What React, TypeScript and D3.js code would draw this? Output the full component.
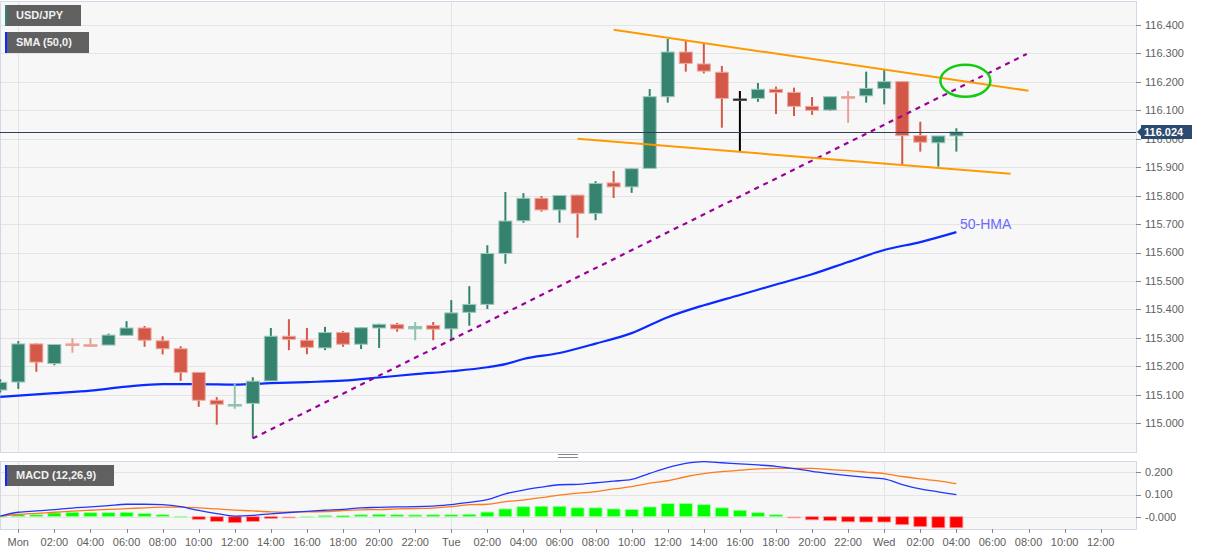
import React from 'react';
import * as d3 from 'd3';

const WIDTH = 1207;
const HEIGHT = 555;

// hourly USD/JPY candles, the first one is Sun 23:00 (GMT)
const firstCandle = Date.UTC(2022, 0, 2, 23);
const monday = Date.UTC(2022, 0, 3, 0);

const opens = [115.117, 115.145, 115.279, 115.210, 115.279, 115.276, 115.275, 115.309, 115.335, 115.290,
  115.262, 115.179, 115.081, 115.063, 115.070, 115.149, 115.306, 115.292, 115.265, 115.319,
  115.278, 115.335, 115.347, 115.332, 115.344, 115.332, 115.390, 115.418, 115.597, 115.712,
  115.791, 115.750, 115.802, 115.738, 115.845, 115.831, 115.896, 116.148, 116.305, 116.263,
  116.234, 116.140, 116.142, 116.174, 116.163, 116.114, 116.101, 116.148, 116.151, 116.177,
  116.201, 116.011, 115.986, 116.010];
const highs = [115.155, 115.289, 115.281, 115.279, 115.299, 115.299, 115.315, 115.359, 115.342, 115.306,
  115.271, 115.180, 115.092, 115.141, 115.162, 115.335, 115.366, 115.335, 115.339, 115.324,
  115.337, 115.350, 115.353, 115.356, 115.356, 115.433, 115.482, 115.626, 115.813, 115.809,
  115.799, 115.801, 115.803, 115.851, 115.887, 115.895, 116.175, 116.351, 116.344, 116.336,
  116.256, 116.168, 116.196, 116.183, 116.180, 116.147, 116.148, 116.168, 116.236, 116.242,
  116.203, 116.060, 116.010, 116.037];
const lows = [115.108, 115.121, 115.181, 115.204, 115.248, 115.272, 115.275, 115.309, 115.269, 115.242,
  115.149, 115.058, 114.995, 115.051, 114.947, 115.149, 115.257, 115.243, 115.257, 115.269,
  115.261, 115.265, 115.322, 115.292, 115.292, 115.295, 115.343, 115.402, 115.561, 115.705,
  115.744, 115.705, 115.652, 115.714, 115.792, 115.810, 115.896, 116.127, 116.236, 116.230,
  116.039, 115.957, 116.130, 116.087, 116.080, 116.084, 116.098, 116.056, 116.127, 116.121,
  115.910, 115.955, 115.902, 115.955];
const closes = [115.144, 115.279, 115.215, 115.277, 115.276, 115.273, 115.310, 115.335, 115.292, 115.262,
  115.179, 115.081, 115.067, 115.066, 115.148, 115.306, 115.295, 115.267, 115.319, 115.278,
  115.336, 115.348, 115.332, 115.340, 115.331, 115.388, 115.418, 115.597, 115.711, 115.791,
  115.750, 115.801, 115.738, 115.843, 115.831, 115.895, 116.148, 116.305, 116.265, 116.238,
  116.142, 116.140, 116.174, 116.163, 116.114, 116.100, 116.148, 116.143, 116.177, 116.201,
  116.011, 115.988, 116.010, 116.024];
const lastPrice = 116.024;

// 50-hour moving average (hours from Mon 00:00)
const smaHours = [-1, 0, 2, 4, 6, 8, 10, 12, 14, 16, 18, 20, 22, 24, 26, 27, 28, 30, 32, 34, 36, 38, 40, 42, 44, 46, 48, 50, 52];
const smaValues = [115.093, 115.097, 115.106, 115.115, 115.129, 115.138, 115.138, 115.136, 115.141, 115.145,
  115.150, 115.161, 115.173, 115.183, 115.197, 115.208, 115.226, 115.247, 115.280, 115.317,
  115.373, 115.415, 115.451, 115.488, 115.524, 115.567, 115.609, 115.637, 115.672];

// MACD (12,26,9), one value per candle
const macdLine = [0.003, 0.020, 0.026, 0.032, 0.039, 0.044, 0.050, 0.056, 0.056, 0.054,
  0.045, 0.028, 0.014, 0.003, 0.006, 0.013, 0.019, 0.024, 0.029, 0.033,
  0.040, 0.042, 0.044, 0.045, 0.048, 0.054, 0.065, 0.077, 0.103, 0.120,
  0.133, 0.144, 0.146, 0.153, 0.160, 0.168, 0.195, 0.221, 0.240, 0.248,
  0.243, 0.238, 0.233, 0.227, 0.217, 0.204, 0.194, 0.185, 0.177, 0.170,
  0.145, 0.125, 0.112, 0.099];
const signalLine = [0.003, 0.010, 0.015, 0.020, 0.025, 0.029, 0.033, 0.036, 0.040, 0.043,
  0.043, 0.040, 0.035, 0.030, 0.026, 0.022, 0.021, 0.022, 0.023, 0.028,
  0.031, 0.032, 0.035, 0.037, 0.039, 0.045, 0.054, 0.056, 0.068, 0.075,
  0.086, 0.097, 0.106, 0.113, 0.125, 0.135, 0.151, 0.162, 0.180, 0.194,
  0.203, 0.2095, 0.215, 0.218, 0.218, 0.2175, 0.212, 0.2075, 0.201, 0.194,
  0.181, 0.170, 0.1615, 0.1485];
const histogram = [0.002, 0.009, 0.009, 0.017, 0.020, 0.018, 0.018, 0.020, 0.015, 0.009,
  0.003, -0.012, -0.021, -0.027, -0.021, -0.008, -0.001, 0.002, 0.006, 0.005,
  0.009, 0.011, 0.009, 0.008, 0.009, 0.009, 0.011, 0.021, 0.035, 0.045,
  0.047, 0.047, 0.040, 0.040, 0.035, 0.033, 0.044, 0.059, 0.060, 0.054,
  0.040, 0.029, 0.018, 0.009, -0.001, -0.014, -0.018, -0.023, -0.024, -0.024,
  -0.036, -0.045, -0.050, -0.050];
const macdTicks = [0, 0.1, 0.2];
const macdTickLabels = ['-0.000', '0.100', '0.200'];

// drawn lines: [hour from Mon 00:00, price]
const supportLine = [[13, 114.947], [55.9, 116.298]];
const channelTop = [[33, 116.383], [56, 116.169]];
const channelBottom = [[31, 116.0], [55, 115.877]];
const circleAt = [52.5, 116.204];
const hmaLabelAt = [52.2, 115.683];

const FONT = 'Liberation Sans, Arial, sans-serif';
const PLOT_RIGHT = 1136;
const MAIN_TOP = 1;
const MAIN_BOTTOM = 452;
const MACD_TOP = 461;
const MACD_BOTTOM = 529;

const UP = '#35836f';
const DOWN = '#d45848';

export default function App() {
  const x = d3.scaleUtc()
    .domain([new Date(monday), new Date(Date.UTC(2022, 0, 5, 12))])
    .range([18.3, 1100.7]);
  const y = d3.scaleLinear().domain([115.0, 116.4]).range([423.3, 25]);
  const ym = d3.scaleLinear().domain([0, 0.2]).range([516.7, 472.3]);

  const hourX = (h: number) => x(new Date(monday + h * 3600e3));
  const candleX = (i: number) => x(new Date(firstCandle + i * 3600e3));

  const priceTicks = y.ticks(14);
  const timeTicks = x.ticks(d3.utcHour.every(2)!);
  const fmtTime = (d: Date) => d.getUTCHours() === 0 ? d3.utcFormat('%a')(d) : d3.utcFormat('%H:%M')(d);

  const smaPath = d3.line<number>()
    .x((_, i) => hourX(smaHours[i]))
    .y(d => y(d))
    .curve(d3.curveMonotoneX)(smaValues);

  const macdPath = d3.line<number>().x((_, i) => candleX(i)).y(d => ym(d)).curve(d3.curveMonotoneX);

  const seg = (pts: number[][]) => ({
    x1: hourX(pts[0][0]), y1: y(pts[0][1]), x2: hourX(pts[1][0]), y2: y(pts[1][1]),
  });

  const bw = 13;

  return (
    <svg width={WIDTH} height={HEIGHT} style={{ position: 'absolute', left: 0, top: 0, background: '#fff' }}>
      <defs>
        <clipPath id="mainClip">
          <rect x={0} y={MAIN_TOP} width={PLOT_RIGHT} height={MAIN_BOTTOM - MAIN_TOP} />
        </clipPath>
        <clipPath id="macdClip">
          <rect x={0} y={MACD_TOP} width={PLOT_RIGHT} height={MACD_BOTTOM - MACD_TOP} />
        </clipPath>
      </defs>

      {/* main panel */}
      <rect x={0.5} y={MAIN_TOP + 0.5} width={PLOT_RIGHT} height={MAIN_BOTTOM - MAIN_TOP} fill="#f7f7f7" stroke="#d3d8e8" />
      {priceTicks.map(t => (
        <g key={t}>
          <line x1={1} x2={PLOT_RIGHT} y1={Math.round(y(t)) + 0.5} y2={Math.round(y(t)) + 0.5} stroke="#e4e4e4" />
          <line x1={PLOT_RIGHT} x2={PLOT_RIGHT + 5} y1={Math.round(y(t)) + 0.5} y2={Math.round(y(t)) + 0.5} stroke="#888" />
          <text x={1145} y={y(t)} dy="0.35em" fontFamily={FONT} fontSize={11} fill="#606060">{d3.format('.3f')(t)}</text>
        </g>
      ))}
      {timeTicks.filter(d => d.getUTCHours() === 0).map(d => (
        <g key={+d}>
          <line x1={Math.round(x(d)) + 0.5} x2={Math.round(x(d)) + 0.5} y1={MAIN_TOP} y2={MAIN_BOTTOM} stroke="#e4e4e4" />
          <line x1={Math.round(x(d)) + 0.5} x2={Math.round(x(d)) + 0.5} y1={MACD_TOP} y2={MACD_BOTTOM} stroke="#e4e4e4" />
        </g>
      ))}

      <g clipPath="url(#mainClip)">
        <path d={smaPath || ''} fill="none" stroke="#0a2bff" strokeWidth={2.2} />

        {opens.map((o, i) => {
          const c = closes[i];
          const cx = candleX(i);
          const diff = Math.abs(c - o);
          const up = c >= o;
          let fill = up ? UP : DOWN;
          let edge = up ? '#9fc9bd' : '#eeaaa0';
          if (diff === 0) { fill = '#000'; edge = '#555'; }
          else if (diff < 0.009) { fill = up ? '#8ec2b4' : '#e9a196'; edge = fill; }
          const top = y(Math.max(o, c));
          const h = Math.max(1.5, y(Math.min(o, c)) - top);
          return (
            <g key={i}>
              <line x1={cx} x2={cx} y1={y(highs[i])} y2={y(lows[i])} stroke={fill} strokeWidth={2} />
              <rect x={cx - bw / 2} y={top} width={bw} height={h} fill={fill} stroke={edge} strokeWidth={1} />
            </g>
          );
        })}

        <line {...seg(supportLine)} stroke="#990099" strokeWidth={2.2} strokeDasharray="5,5" />
        <line {...seg(channelTop)} stroke="#ff9900" strokeWidth={2} />
        <line {...seg(channelBottom)} stroke="#ff9900" strokeWidth={2} />
        <ellipse cx={hourX(circleAt[0])} cy={y(circleAt[1])} rx={25} ry={16} fill="none" stroke="#11cc11" strokeWidth={2.5} />
        <text x={hourX(hmaLabelAt[0])} y={y(hmaLabelAt[1])} fontFamily={FONT} fontSize={14} fill="#6a6aff">50-HMA</text>

        <line x1={0} x2={PLOT_RIGHT} y1={Math.round(y(lastPrice)) + 0.5} y2={Math.round(y(lastPrice)) + 0.5} stroke="#2f3f5c" strokeWidth={1} />
      </g>

      {/* last price tag */}
      <g>
        <path d={`M${PLOT_RIGHT + 1},${y(lastPrice)} L${PLOT_RIGHT + 5},${y(lastPrice) - 4} L${PLOT_RIGHT + 5},${y(lastPrice) - 7} L${PLOT_RIGHT + 56},${y(lastPrice) - 7} L${PLOT_RIGHT + 56},${y(lastPrice) + 7} L${PLOT_RIGHT + 5},${y(lastPrice) + 7} L${PLOT_RIGHT + 5},${y(lastPrice) + 4} Z`}
          fill="#2b4a70" />
        <text x={PLOT_RIGHT + 8} y={y(lastPrice)} dy="0.35em" fontFamily={FONT} fontSize={11} fontWeight="bold" fill="#fff">{d3.format('.3f')(lastPrice)}</text>
      </g>

      {/* legend tags */}
      <rect x={5} y={5} width={76} height={21} fill="#606060" />
      <rect x={5} y={5} width={2} height={21} fill={UP} />
      <text x={16} y={15.5} dy="0.35em" fontFamily={FONT} fontSize={11} fontWeight="bold" fill="#f2f2f2">USD/JPY</text>
      <rect x={5} y={32} width={84} height={21} fill="#606060" />
      <rect x={5} y={32} width={2} height={21} fill="#0a2bff" />
      <text x={16} y={42.5} dy="0.35em" fontFamily={FONT} fontSize={11} fontWeight="bold" fill="#f2f2f2">SMA (50,0)</text>

      {/* splitter handle */}
      <line x1={558} x2={578} y1={454.5} y2={454.5} stroke="#888" />
      <line x1={558} x2={578} y1={457.5} y2={457.5} stroke="#888" />

      {/* MACD panel */}
      <rect x={0.5} y={MACD_TOP + 0.5} width={PLOT_RIGHT} height={MACD_BOTTOM - MACD_TOP} fill="#f7f7f7" stroke="#d3d8e8" />
      {macdTicks.map((t, i) => (
        <g key={t}>
          <line x1={1} x2={PLOT_RIGHT} y1={Math.round(ym(t)) + 0.5} y2={Math.round(ym(t)) + 0.5} stroke="#e4e4e4" />
          <line x1={PLOT_RIGHT} x2={PLOT_RIGHT + 5} y1={Math.round(ym(t)) + 0.5} y2={Math.round(ym(t)) + 0.5} stroke="#888" />
          <text x={1145} y={ym(t)} dy="0.35em" fontFamily={FONT} fontSize={11} fill="#606060">{macdTickLabels[i]}</text>
        </g>
      ))}
      {timeTicks.filter(d => d.getUTCHours() === 0).map(d => (
        <line key={+d} x1={Math.round(x(d)) + 0.5} x2={Math.round(x(d)) + 0.5} y1={MACD_TOP} y2={MACD_BOTTOM} stroke="#e4e4e4" />
      ))}
      <g clipPath="url(#macdClip)">
        {histogram.map((v, i) => {
          const cx = candleX(i);
          const small = Math.abs(v) < 0.004;
          const fill = v >= 0 ? (small ? '#9cff9c' : '#00ff00') : (small ? '#ff8f8f' : '#ff0000');
          const y0 = ym(0);
          const y1 = ym(v);
          const top = Math.min(y0, y1);
          const h = Math.max(1.5, Math.abs(y1 - y0));
          return <rect key={i} x={cx - bw / 2} y={top} width={bw} height={h} fill={fill}
            stroke={v >= 0 ? '#a8ffa8' : '#ff9a9a'} strokeWidth={small ? 0 : 0.8} />;
        })}
        <path d={macdPath(signalLine) || ''} fill="none" stroke="#ff7a1a" strokeWidth={1.3} />
        <path d={macdPath(macdLine) || ''} fill="none" stroke="#2036ff" strokeWidth={1.3} />
      </g>
      <rect x={5} y={465} width={109} height={21} fill="#606060" />
      <rect x={5} y={465} width={2} height={21} fill="#0a2bff" />
      <text x={16} y={475.5} dy="0.35em" fontFamily={FONT} fontSize={11} fontWeight="bold" fill="#f2f2f2">MACD (12,26,9)</text>

      {/* time axis */}
      {timeTicks.map(d => (
        <g key={+d}>
          <line x1={Math.round(x(d)) + 0.5} x2={Math.round(x(d)) + 0.5} y1={MACD_BOTTOM} y2={MACD_BOTTOM + 4} stroke="#888" />
          <text x={x(d)} y={542} dy="0.35em" textAnchor="middle" fontFamily={FONT} fontSize={11} fill="#606060">{fmtTime(d)}</text>
        </g>
      ))}
    </svg>
  );
}
